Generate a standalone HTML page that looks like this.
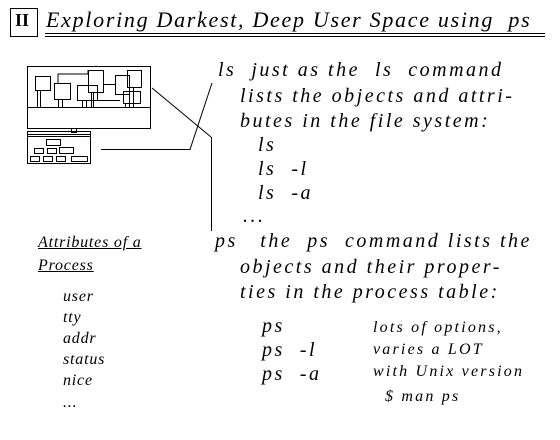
<!DOCTYPE html>
<html><head><style>
body{margin:0;width:560px;height:440px;background:#fff;position:relative;overflow:hidden;font-family:"Liberation Serif",serif;font-style:italic;color:#000}
.t{position:absolute;white-space:nowrap;font-size:20px;line-height:20px;letter-spacing:2.5px}
.s{font-size:16px;letter-spacing:2.2px}
.a{letter-spacing:0.8px}
</style></head><body>
<svg width="560" height="440" style="position:absolute;left:0;top:0" fill="none" stroke="#000" stroke-width="1">
<rect x="10.5" y="8.5" width="27" height="28"/>
<line x1="45" y1="33.5" x2="545" y2="33.5"/><line x1="45" y1="36.5" x2="545" y2="36.5"/>
<rect x="27.5" y="66.5" width="123" height="62"/>
<line x1="27" y1="107.5" x2="150" y2="107.5"/>
<rect x="35.5" y="76.5" width="15" height="14"/><line x1="37.5" y1="91" x2="37.5" y2="107"/><line x1="40.5" y1="91" x2="40.5" y2="107"/>
<rect x="54.5" y="83.5" width="16" height="16"/><line x1="58.5" y1="100" x2="58.5" y2="107"/><line x1="62.5" y1="100" x2="62.5" y2="107"/>
<polyline points="58,83 58,74 88,74 88,70"/>
<rect x="77.5" y="85.5" width="20" height="15"/><line x1="82.5" y1="101" x2="82.5" y2="107"/><line x1="86.5" y1="101" x2="86.5" y2="107"/>
<rect x="88.5" y="70.5" width="15" height="22"/><line x1="91.5" y1="93" x2="91.5" y2="107"/><line x1="93.5" y1="93" x2="93.5" y2="107"/>
<line x1="104" y1="84.5" x2="116" y2="84.5"/><line x1="98" y1="100.5" x2="120" y2="100.5"/>
<rect x="115.5" y="75.5" width="14" height="19"/><rect x="127.5" y="70.5" width="14" height="17"/>
<rect x="123.5" y="91.5" width="17" height="12"/><line x1="125.5" y1="104" x2="125.5" y2="107"/><line x1="129.5" y1="88" x2="129.5" y2="107"/><line x1="133.5" y1="88" x2="133.5" y2="107"/>
<rect x="71.5" y="128.5" width="5" height="4"/>
<rect x="27.5" y="131.5" width="63" height="32"/>
<line x1="28" y1="134.5" x2="90" y2="134.5"/><line x1="28" y1="136.5" x2="90" y2="136.5"/>
<rect x="46.5" y="139.5" width="14" height="6"/><rect x="34.5" y="148.5" width="9" height="5"/><rect x="47.5" y="148.5" width="9" height="5"/><rect x="59.5" y="147.5" width="14" height="6"/>
<rect x="30.5" y="156.5" width="9" height="5"/><rect x="43.5" y="156.5" width="9" height="5"/><rect x="56.5" y="156.5" width="9" height="5"/><rect x="71.5" y="156.5" width="16" height="5"/>
<line x1="152" y1="88" x2="211" y2="137"/>
<polyline points="101,149.5 190,149.5 212,83"/>
<line x1="211.5" y1="137" x2="211.5" y2="231"/>
</svg>
<div class="t" style="left:15px;top:10px;font-style:normal;font-weight:bold;font-size:18px;letter-spacing:0">II</div>
<div class="t" style="left:46px;top:10px;font-size:22px;letter-spacing:1.7px">Exploring Darkest, Deep User Space using&nbsp; ps</div>
<div class="t" style="left:218px;top:60px">ls&nbsp; just as the&nbsp; ls&nbsp; command</div>
<div class="t" style="left:240px;top:86px">lists the objects and attri-</div>
<div class="t" style="left:240px;top:111px">butes in the file system:</div>
<div class="t" style="left:258px;top:135px">ls</div>
<div class="t" style="left:258px;top:159px">ls&nbsp; -l</div>
<div class="t" style="left:258px;top:183px">ls&nbsp; -a</div>
<div class="t" style="left:243px;top:206px">...</div>
<div class="t" style="left:215px;top:231px">ps&nbsp;&nbsp; the&nbsp; ps&nbsp; command lists the</div>
<div class="t" style="left:240px;top:257px">objects and their proper-</div>
<div class="t" style="left:240px;top:282px">ties in the process table:</div>
<div class="t" style="left:262px;top:316px">ps</div>
<div class="t" style="left:262px;top:340px">ps&nbsp; -l</div>
<div class="t" style="left:262px;top:364px">ps&nbsp; -a</div>
<div class="t s" style="left:373px;top:318px">lots of options,</div>
<div class="t s" style="left:373px;top:340px">varies a LOT</div>
<div class="t s" style="left:373px;top:362px">with Unix version</div>
<div class="t s" style="left:385px;top:387px">$ man ps</div>
<div class="t s a" style="left:38px;top:233px;text-decoration:underline">Attributes of a</div>
<div class="t s a" style="left:38px;top:256px;text-decoration:underline">Process</div>
<div class="t s a" style="left:63px;top:287px">user</div>
<div class="t s a" style="left:63px;top:308px">tty</div>
<div class="t s a" style="left:63px;top:329px">addr</div>
<div class="t s a" style="left:63px;top:350px">status</div>
<div class="t s a" style="left:63px;top:371px">nice</div>
<div class="t s a" style="left:63px;top:393px">...</div>
</body></html>
